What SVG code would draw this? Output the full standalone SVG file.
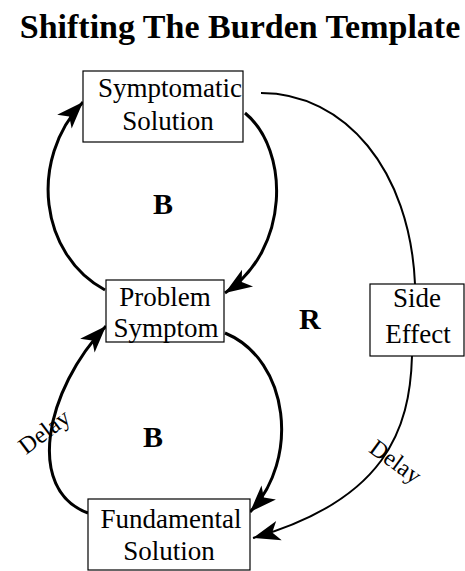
<svg xmlns="http://www.w3.org/2000/svg" width="465" height="571" viewBox="0 0 465 571">
  <style>
    .box { fill: #fff; stroke: #000; stroke-width: 1.2; }
    .lbl { font-family: "Liberation Serif", "Times New Roman", serif; font-size: 27px; fill: #000; text-anchor: middle; }
    .loop { font-family: "Liberation Serif", "Times New Roman", serif; font-size: 30px; font-weight: bold; fill: #000; }
    .delay { font-family: "Liberation Serif", "Times New Roman", serif; font-size: 24px; fill: #000; text-anchor: middle; }
    .link { fill: none; stroke: #000; stroke-width: 3; }
    .side { fill: none; stroke: #000; stroke-width: 2; }
  </style>
  <defs>
    <marker id="head" markerUnits="userSpaceOnUse" viewBox="-30 -12 32 24" refX="0" refY="0" markerWidth="32" markerHeight="24" orient="auto">
      <path d="M0,0 L-27,-10 L-20,0 L-27,10 Z" fill="#000"/>
    </marker>
  </defs>

  <rect width="465" height="571" fill="#fff"/>

  <text x="240" y="38" font-family="'Liberation Serif', 'Times New Roman', serif" font-size="34" font-weight="bold" text-anchor="middle">Shifting The Burden Template</text>

  <g id="connectors">
    <!-- upper balancing loop -->
    <path class="link" d="M105,290 C40,255 28,160 83,102" marker-end="url(#head)"/>
    <path class="link" d="M245,113 C290,150 290,250 225,293" marker-end="url(#head)"/>
    <!-- lower balancing loop -->
    <path class="link" d="M88,513 C25,490 45,390 106,326" marker-end="url(#head)"/>
    <path class="link" d="M225,333 C290,360 300,460 250,512" marker-end="url(#head)"/>
    <!-- side effect path -->
    <path class="side" d="M261,93 C345,93 410,170 415,284"/>
    <path class="side" d="M412,356 C410,430 385,500 253,538" marker-end="url(#head)"/>
  </g>

  <g id="symptomatic-solution">
    <rect class="box" x="83" y="71" width="160" height="71"/>
    <text class="lbl" x="170" y="97">Symptomatic</text>
    <text class="lbl" x="168" y="130">Solution</text>
  </g>

  <g id="problem-symptom">
    <rect class="box" x="106" y="280" width="118" height="62"/>
    <text class="lbl" x="165" y="306">Problem</text>
    <text class="lbl" x="166" y="337">Symptom</text>
  </g>

  <g id="side-effect">
    <rect class="box" x="370" y="284" width="94" height="72"/>
    <text class="lbl" x="417" y="307">Side</text>
    <text class="lbl" x="418" y="343">Effect</text>
  </g>

  <g id="fundamental-solution">
    <rect class="box" x="88" y="499" width="162" height="71"/>
    <text class="lbl" x="171" y="528">Fundamental</text>
    <text class="lbl" x="169" y="560">Solution</text>
  </g>

  <g id="loop-labels">
    <text class="loop" x="153" y="214">B</text>
    <text class="loop" x="143" y="447">B</text>
    <text class="loop" x="299" y="329">R</text>
  </g>

  <g id="delays">
    <text class="delay" transform="translate(49,438) rotate(-37)">Delay</text>
    <text class="delay" transform="translate(391,468) rotate(36)">Delay</text>
  </g>
</svg>
